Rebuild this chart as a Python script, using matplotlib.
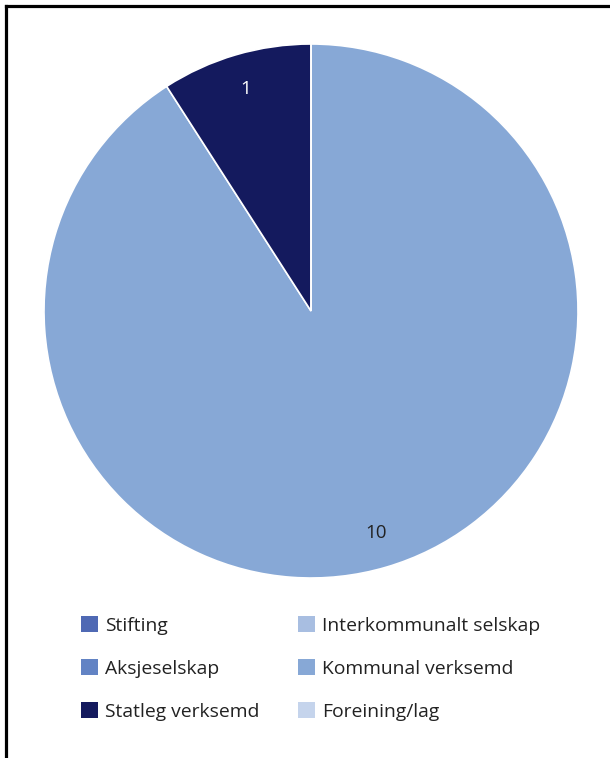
import matplotlib
matplotlib.use("Agg")
import matplotlib.pyplot as plt
from matplotlib.patches import Patch
from matplotlib.lines import Line2D

categories = ["Stifting", "Interkommunalt selskap", "Aksjeselskap",
              "Kommunal verksemd", "Statleg verksemd", "Foreining/lag"]
values = [0, 0, 0, 10, 1, 0]
colors = ["#4F69B4", "#A8BEE1", "#6283C4", "#87A8D6", "#141A5E", "#C5D4EC"]
label_colors = ["#222222", "#222222", "#222222", "#222222", "#FFFFFF", "#222222"]

plt.rcParams['font.family'] = ['Open Sans', 'DejaVu Sans']

W, H = 610, 758
fig = plt.figure(figsize=(W / 100, H / 100), dpi=100)

cx, cy, r = 311, 311, 267
ax = fig.add_axes([(cx - r) / W, (H - cy - r) / H, 2 * r / W, 2 * r / H])
wedges, texts, autotexts = ax.pie(
    values, colors=colors, startangle=90, counterclock=False,
    autopct=lambda p: ("%d" % round(p * sum(values) / 100)) if p > 0 else "",
    pctdistance=0.865, radius=1,
    wedgeprops=dict(edgecolor="white", linewidth=1.2))
for t, c in zip(autotexts, label_colors):
    t.set_color(c)
    t.set_fontsize(13.5)
ax.set_xlim(-1, 1)
ax.set_ylim(-1, 1)
ax.set_aspect("auto")
ax.axis("off")

fs = 13.9
em = fs * 100 / 72
col_items = [[0, 2, 4], [1, 3, 5]]
col_x = [81, 298]
for items, x0 in zip(col_items, col_x):
    handles = [Patch(facecolor=colors[i], edgecolor="none") for i in items]
    labels = [categories[i] for i in items]
    leg = fig.legend(handles, labels, ncol=1, frameon=False,
                     loc="upper left", bbox_to_anchor=(x0 / W, 1 - 616 / H),
                     borderpad=0, borderaxespad=0,
                     fontsize=fs, handlelength=17 / em, handleheight=17 / em,
                     handletextpad=7 / em, labelspacing=1.27,
                     labelcolor="#222222")

lw = 2.3
fig.add_artist(Line2D([5.5 / W, 5.5 / W], [0, 1 - 5.5 / H], transform=fig.transFigure,
                      color="black", linewidth=lw, solid_capstyle="projecting"))
fig.add_artist(Line2D([5.5 / W, 1], [1 - 5.5 / H, 1 - 5.5 / H], transform=fig.transFigure,
                      color="black", linewidth=lw, solid_capstyle="projecting"))

fig.savefig("out.png", dpi=100, facecolor="white")
